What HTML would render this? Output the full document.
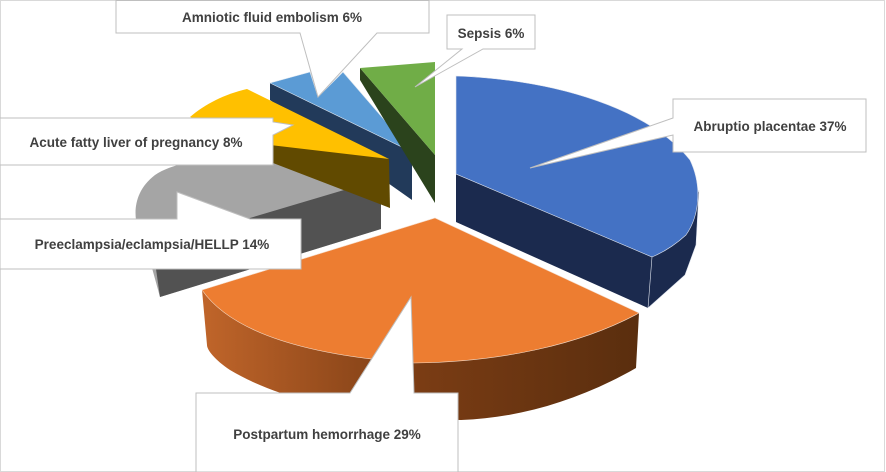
<!DOCTYPE html>
<html><head><meta charset="utf-8"><style>
html,body{margin:0;padding:0;background:#fff}
svg{display:block}
text{font-family:"Liberation Sans",sans-serif;font-weight:bold;font-size:13.5px;fill:#404040}
</style></head><body>
<svg width="886" height="472" viewBox="0 0 886 472">
<defs>
<linearGradient id="og" x1="0" x2="1" y1="0" y2="0">
<stop offset="0" stop-color="#c0652a"/><stop offset="0.5" stop-color="#7a3c14"/><stop offset="1" stop-color="#5a2e0e"/>
</linearGradient>
</defs>
<rect x="0.5" y="0.5" width="884" height="471" fill="#fff" stroke="#d9d9d9"/>
<!-- gray -->
<path d="M381,179 L273,163 C230,156 180,158 155,175 C138,188 134,205 136,220 C140,245 148,260 152,268 L160,297 L381,229 Z" fill="#a5a5a5"/>
<path d="M381,179 L381,229 L160,297 L155,262 L250,218 Z" fill="#525252"/>
<!-- light blue -->
<path d="M270,83 L412,152 L412,200 L270,100 Z" fill="#223a5a"/>
<path d="M270,83 L310,72 L318,97 L343,72 L412,152 Z" fill="#5b9bd5" stroke="#dfe8f2" stroke-width="0.6"/>
<!-- yellow -->
<path d="M273,143 L389,159 L390,208 L273,163 Z" fill="#614a00"/>
<path d="M389,159 L247,89 C225,94 205,104 190,117 L270,145 Z" fill="#ffc000"/>
<!-- green -->
<path d="M360,68 L435,155 L435,203 L360,80 Z" fill="#2b431c"/>
<path d="M360,68 L435,62 L435,155 Z" fill="#70ad47"/>
<!-- blue -->
<path d="M456,174 L652,257 L648,308 L456,222 Z" fill="#1b2a4e"/>
<path d="M652,257 L675,236 L699,190 L696,245 L685,275 L648,308 Z" fill="#1b2a4e" stroke="#dfe4ee" stroke-width="0.6"/>
<path d="M456,174 L456,76 C560,80 650,110 690,160 C702,185 700,215 686,235 C675,245 664,252 652,257 Z" fill="#4472c4" stroke="#dfe4ee" stroke-width="0.6"/>
<!-- orange -->
<path d="M202,290 C230,330 300,355 414,363 C500,362 580,345 639,313 L636,368 C580,400 520,418 461,420 C360,418 280,400 230,370 C215,360 207,350 207,345 Z" fill="url(#og)"/>
<path d="M202,290 L435,218 L639,313 C580,345 500,362 414,363 C300,355 230,330 202,290 Z" fill="#ed7d31" stroke="#f5d9c5" stroke-width="0.6"/>
<!-- labels -->
<g fill="#fff" stroke="#bfbfbf" stroke-width="1">
<path d="M116,0.5 L429,0.5 L429,33 L377,33 L318,97 L300,33 L116,33 Z"/>
<path d="M447,15 L535,15 L535,49 L483,49 L415,87 L462,49 L447,49 Z"/>
<path d="M673,99 L866,99 L866,152 L673,152 L673,135 L530,168 L673,118 Z"/>
<path d="M0,118 L273,118 L273,122 L293,125 L273,135 L273,165 L0,165 Z"/>
<path d="M0,219 L177,219 L177,192 L250,219 L301,219 L301,269 L0,269 Z"/>
<path d="M196,393 L350,393 L411,297 L414,393 L458,393 L458,472 L196,472 Z"/>
</g>
<text x="272" y="22" text-anchor="middle">Amniotic fluid embolism 6%</text>
<text x="491" y="38" text-anchor="middle">Sepsis 6%</text>
<text x="770" y="131" text-anchor="middle">Abruptio placentae 37%</text>
<text x="136" y="147" text-anchor="middle">Acute fatty liver of pregnancy 8%</text>
<text x="152" y="249" text-anchor="middle">Preeclampsia/eclampsia/HELLP 14%</text>
<text x="327" y="439" text-anchor="middle">Postpartum hemorrhage 29%</text>
</svg>
</body></html>
